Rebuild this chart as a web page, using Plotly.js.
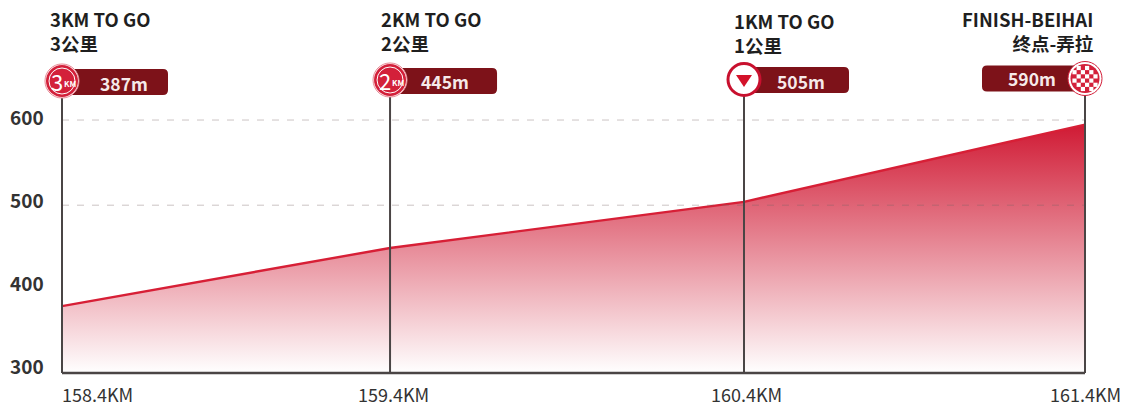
<!DOCTYPE html>
<html><head><meta charset="utf-8">
<script src="https://cdn.plot.ly/plotly-3.0.1.min.js"></script>
<style>html,body{margin:0;padding:0;background:#fff}#c{width:1123px;height:406px}</style>
</head><body><div id="c"></div>
<script>
// Data
const distance = [158.4, 159.362, 160.4, 161.4];
const elevation = [373.5, 443.5, 499, 592];
const baseline = [293, 293, 293, 293];
const tickLabels = ['158.4KM', '159.4KM', '160.4KM', '161.4KM'];
const yTicks = [300, 400, 500, 600];
const gridLevels = [597.5, 495];
const titlesEn = ['3KM TO GO', '2KM TO GO', '1KM TO GO', 'FINISH-BEIHAI'];
const titlesZh = ['3公里', '2公里', '1公里', '终点-弄拉'];
const altLabels = ['387m', '445m', '505m', '590m'];
const iconDigits = ['3', '2'];

const FONT = '"Noto Sans CJK SC","Noto Sans",sans-serif';
const DARK = '#1f1f1f', PILL = '#7d1219', RED = '#d3203a', AXIS = '#4a4545';
const yBase = 293, yTop = 742, pxPerUnit = 373 / (yTop - yBase);
const yMin = yBase - 33 / pxPerUnit;
const xMin = 158.4 - 62/341, xMax = 161.4 + 38/341;

function pill(xi, px0, px1, cy) {
  const r = 5, t = cy + 13, b = cy - 13;
  return {type:'path', xref:'x', yref:'y', xsizemode:'pixel', ysizemode:'pixel',
    xanchor: distance[xi], yanchor: yBase,
    path:`M${px0+r},${t} L${px1-r},${t} Q${px1},${t} ${px1},${t-r} L${px1},${b+r} Q${px1},${b} ${px1-r},${b} L${px0+r},${b} Q${px0},${b} ${px0},${b+r} L${px0},${t-r} Q${px0},${t} ${px0+r},${t} Z`,
    fillcolor:PILL, line:{width:0}, layer:'above'};
}
function circle(xi, cy, r, fill, lc, lw) {
  return {type:'circle', xref:'x', yref:'y', xsizemode:'pixel', ysizemode:'pixel',
    xanchor: distance[xi], yanchor: yBase, x0:-r, x1:r, y0:cy-r, y1:cy+r,
    fillcolor:fill, line:{color:lc, width:lw}, layer:'above'};
}
const shapes = [];
gridLevels.forEach(v => shapes.push({type:'line', xref:'x', yref:'y', x0:distance[0], x1:distance[3], y0:v, y1:v,
  line:{color:'rgba(120,100,100,0.38)', width:1, dash:'7px 8px'}, layer:'above'}));
distance.forEach(d => shapes.push({type:'line', xref:'x', yref:'y', x0:d, x1:d, y0:yBase, y1:650,
  line:{color:AXIS, width:2}, layer:'above'}));
shapes.push({type:'line', xref:'x', yref:'y', x0:distance[0], x1:distance[3], y0:yBase, y1:yBase, line:{color:AXIS, width:2.4}, layer:'above'});

// pills: side offsets from the marker line, centre height in px above the baseline
const pillH = [291, 292, 293, 294.5];
const pillSpan = [[0,106],[0,107],[0,105],[-103,0]];
pillSpan.forEach((s,i) => shapes.push(pill(i, s[0], s[1], pillH[i])));

// circles
const cyIcon = [292, 293, 293.5, 294.5];
[0,1].forEach(i => {
  shapes.push(circle(i, cyIcon[i], 17, '#ffffff', '#e8828f', 1));
  shapes.push(circle(i, cyIcon[i], 16, RED, RED, 0));
  shapes.push(circle(i, cyIcon[i], 13, RED, '#ffffff', 1));
});
shapes.push(circle(2, cyIcon[2], 16, '#ffffff', '#c8102e', 3));
shapes.push({type:'path', xref:'x', yref:'y', xsizemode:'pixel', ysizemode:'pixel',
  xanchor:distance[2], yanchor:yBase, path:'M-8,298 L8,298 L0,286 Z', fillcolor:'#d3122a', line:{width:0}, layer:'above'});
shapes.push(circle(3, cyIcon[3], 17, '#ffffff', RED, 1));
shapes.push(circle(3, cyIcon[3], 14.5, RED, RED, 0));
// chequers inside the finish icon
const n = 6, sz = 4.2;
for (let r = 0; r < n; r++) for (let c = 0; c < n; c++) {
  if ((r + c) % 2) continue;
  const px = (c - n/2) * sz, py = cyIcon[3] + (r - n/2) * sz;
  if (Math.hypot(px + sz/2, py + sz/2 - cyIcon[3]) > 12.5) continue;
  shapes.push({type:'rect', xref:'x', yref:'y', xsizemode:'pixel', ysizemode:'pixel',
    xanchor:distance[3], yanchor:yBase, x0:px, x1:px+sz, y0:py, y1:py+sz, fillcolor:'#ffffff', line:{width:0}, layer:'above'});
}

const ann = [];
function txt(x, y, t, o) {
  ann.push(Object.assign({x, y, xref:'x', yref:'y', text:t, showarrow:false, font:{family:FONT, size:15, color:DARK}}, o));
}
const pxToY = p => yTop - p / pxPerUnit;
// titles: two lines in one text block
const titleShift = [[-14,'left'],[-11,'left'],[-12,'left'],[11,'right']];
const titlePx = [31, 31, 33, 31];
titlesEn.forEach((t,i) => {
  txt(distance[i], pxToY(titlePx[i]), '<b>'+t+'<br>'+titlesZh[i]+'</b>', {xanchor:titleShift[i][1], align:titleShift[i][1], yanchor:'middle', xshift:titleShift[i][0], font:{family:FONT, size:18.5, color:DARK}});
});
// altitude labels inside pills
const altShift = [62, 55, 57, -53];
const altPx = [83, 81, 81, 78];
altLabels.forEach((t,i) => {
  txt(distance[i], pxToY(altPx[i]), '<b>'+t+'</b>', {xanchor:'center', yanchor:'middle', xshift:altShift[i], font:{family:FONT, size:17.5, color:'#f6e9e9'}});
});
// icon digits
iconDigits.forEach((t,i) => {
  const yv = pxToY(81 - i);
  txt(distance[i], yv, t, {xanchor:'center', xshift:-5, yanchor:'middle', font:{family:FONT, size:22, color:'#fff'}});
  txt(distance[i], yv, '<b>KM</b>', {xanchor:'center', xshift:8, yanchor:'middle', yshift:-2, font:{family:FONT, size:8, color:'#fff'}});
});
// the first distance label is left aligned, so all are placed by distance
const xTickAnchor = ['left','center','center','center'];
const xTickShift = [-2, 3, 2, 0];
tickLabels.forEach((t,i) => {
  txt(distance[i], pxToY(394), t, {xanchor:xTickAnchor[i], xshift:xTickShift[i], yanchor:'middle', font:{family:FONT, size:18, color:'#333'}});
});

const floor = {x:distance, y:baseline, mode:'lines', type:'scatter', line:{width:0}, hoverinfo:'skip'};
const trace = {
  x: distance, y: elevation, mode:'lines', type:'scatter', fill:'tonexty',
  line:{color:'#d71f36', width:2.4},
  fillgradient:{type:'vertical', start:592, stop:yBase,
    colorscale:[[0,'rgba(208,26,52,1)'],[1,'rgba(255,255,255,1)']]},
  hoverinfo:'skip'
};
const layout = {
  width:1123, height:406, showlegend:false,
  paper_bgcolor:'#fff', plot_bgcolor:'#fff',
  margin:{l:0, r:0, t:0, b:0},
  xaxis:{range:[xMin,xMax], showgrid:false, zeroline:false, showticklabels:false, ticks:'', showline:false},
  yaxis:{range:[yMin,yTop], tickvals:yTicks, ticktext:yTicks.map(v=>'<b>'+v+'</b>'), showgrid:false, zeroline:false,
    ticks:'', showline:false, ticklabelposition:'inside', ticklabelstandoff:7, tickfont:{family:FONT, size:19, color:'#333'}},
  shapes:shapes,
  annotations:ann
};
Plotly.newPlot('c',[floor,trace],layout,{staticPlot:true,displayModeBar:false});
</script></body></html>
